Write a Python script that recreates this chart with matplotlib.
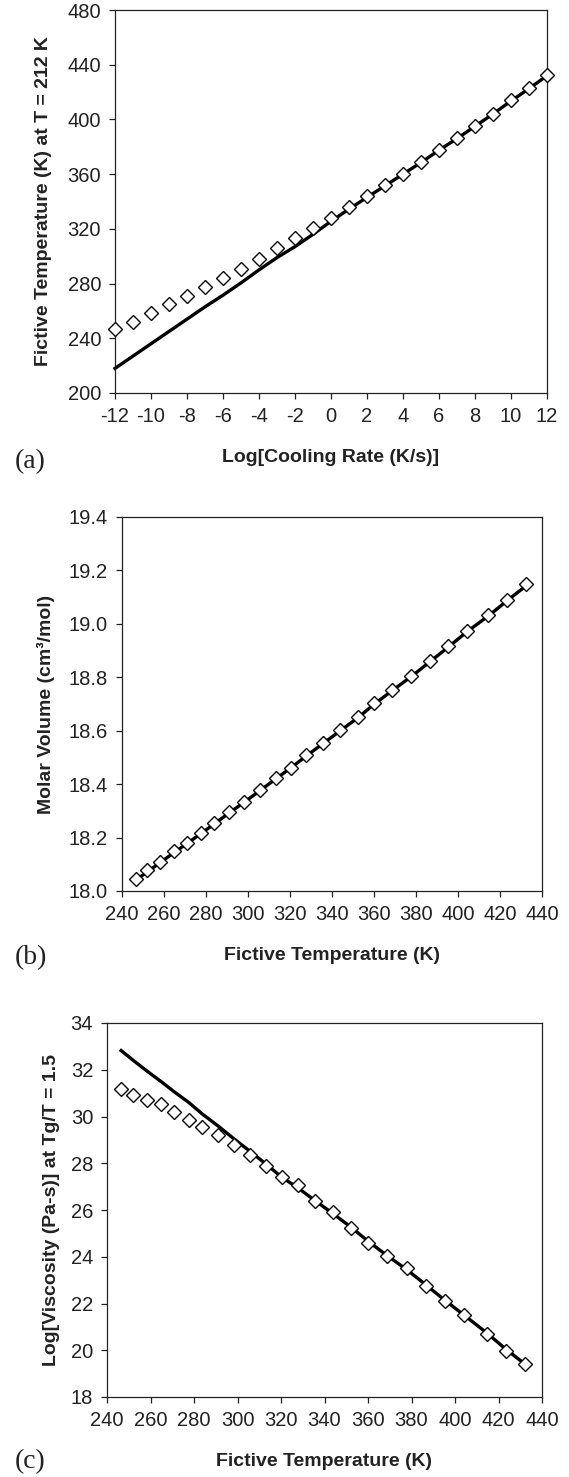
import matplotlib
matplotlib.use("Agg")
import matplotlib.pyplot as plt
import numpy as np

plt.rcParams['font.family'] = ['Liberation Sans', 'DejaVu Sans']
plt.rcParams['axes.unicode_minus'] = False

# (a) fictive temperature vs log cooling rate
log_rate = [-12, -11, -10, -9, -8, -7, -6, -5, -4, -3, -2, -1, 0,
            1, 2, 3, 4, 5, 6, 7, 8, 9, 10, 11, 12]
tf_points = [246.5, 252.1, 258.3, 264.8, 271.0, 277.6, 283.9, 291.0, 298.3,
             305.9, 313.3, 320.4, 327.7, 335.7, 343.8, 352.4, 360.2, 368.8,
             377.8, 386.6, 395.2, 404.2, 414.5, 423.3, 432.3]
tf_model = [218.0, 227.0, 236.0, 245.0, 254.0, 263.0, 271.5, 280.5, 290.0,
            299.0, 307.0, 316.0, 325.5, 334.5, 343.0, 351.5, 360.0, 368.5,
            377.5, 386.0, 395.0, 404.0, 413.5, 422.5, 432.0]

# (b) molar volume vs fictive temperature
volume_points = [18.045, 18.077, 18.110, 18.148, 18.180, 18.217, 18.253,
                 18.294, 18.335, 18.379, 18.422, 18.462, 18.508, 18.555,
                 18.601, 18.652, 18.703, 18.754, 18.806, 18.862, 18.916,
                 18.975, 19.035, 19.091, 19.150]
volume_model = [18.040, 18.072, 18.107, 18.144, 18.178, 18.215, 18.251,
                18.292, 18.333, 18.377, 18.420, 18.461, 18.505, 18.552,
                18.599, 18.649, 18.700, 18.751, 18.803, 18.858, 18.912,
                18.970, 19.030, 19.086, 19.142]

# (c) log viscosity vs fictive temperature
visc_points = [31.18, 30.94, 30.69, 30.53, 30.19, 29.86, 29.53, 29.20, 28.78,
               28.35, 27.87, 27.43, 27.05, 26.38, 25.90, 25.25, 24.60, 24.02,
               23.52, 22.77, 22.10, 21.50, 20.70, 19.96, 19.40]
visc_model = [32.82, 32.40, 31.95, 31.50, 31.05, 30.60, 30.10, 29.60, 29.05,
              28.50, 27.95, 27.40, 26.95, 26.40, 25.85, 25.25, 24.65, 24.05,
              23.45, 22.80, 22.15, 21.50, 20.75, 20.05, 19.40]

W, H = 569, 1477
fig = plt.figure(figsize=(W / 100, H / 100), dpi=100)

def make_axes(left, right, top, bottom):
    return fig.add_axes([left / W, 1 - bottom / H, (right - left) / W, (bottom - top) / H])

def style(ax, xlab, ylab, ylab_x, height_px):
    for s in ax.spines.values():
        s.set_linewidth(0.9)
        s.set_color('#222222')
    ax.tick_params(direction='out', length=4, width=0.9, color='#222222',
                   labelsize=14.5, labelcolor='#222222', pad=6,
                   top=False, right=False)
    ax.set_xlabel(xlab, fontsize=14, fontweight='bold', color='#222222')
    ax.set_ylabel(ylab, fontsize=14, fontweight='bold', color='#222222')
    ax.xaxis.set_label_coords(0.5, -64 / height_px)
    ax.xaxis.label.set_va('center')
    ax.yaxis.set_label_coords(ylab_x, 0.5)
    ax.yaxis.label.set_va('center')

mk = dict(marker='D', markersize=7.2, markerfacecolor='white',
          markeredgecolor='black', markeredgewidth=1.0, linestyle='none',
          zorder=3, clip_on=False)

# panel a
ax1 = make_axes(115, 547, 10, 393)
ax1.plot(log_rate, tf_model, color='black', lw=2.4, zorder=2, clip_on=False)
ax1.plot(log_rate, tf_points, **mk)
ax1.set_xlim(-12, 12)
ax1.set_ylim(200, 480)
ax1.set_xticks(np.arange(-12, 13, 2))
ax1.set_yticks(np.arange(200, 481, 40))
style(ax1, 'Log[Cooling Rate (K/s)]', 'Fictive Temperature (K) at T = 212 K',
      (44 - 115) / 432, 383)

# panel b
ax2 = make_axes(122, 542, 517, 891)
ax2.plot(tf_points, volume_model, color='black', lw=2.4, zorder=2)
ax2.plot(tf_points, volume_points, **mk)
ax2.set_xlim(240, 440)
ax2.set_ylim(18.0, 19.4)
ax2.set_xticks(np.arange(240, 441, 20))
ax2.set_yticks(np.round(np.arange(18.0, 19.41, 0.2), 1))
ax2.yaxis.set_major_formatter(matplotlib.ticker.FormatStrFormatter('%.1f'))
style(ax2, 'Fictive Temperature (K)', 'Molar Volume (cm\u00b3/mol)',
      (46 - 122) / 420, 374)

# panel c
ax3 = make_axes(107, 542, 1023, 1397)
ax3.plot(tf_points, visc_model, color='black', lw=2.4, zorder=2, clip_on=False)
ax3.plot(tf_points, visc_points, **mk)
ax3.set_xlim(240, 440)
ax3.set_ylim(18, 34)
ax3.set_xticks(np.arange(240, 441, 20))
ax3.set_yticks(np.arange(18, 35, 2))
style(ax3, 'Fictive Temperature (K)', 'Log[Viscosity (Pa-s)] at Tg/T = 1.5',
      (52 - 107) / 435, 374)

for lab, yc in [('(a)', 462), ('(b)', 958), ('(c)', 1462)]:
    fig.text(15 / W, 1 - yc / H, lab, fontsize=20, ha='left', va='center',
             family=['Liberation Serif', 'DejaVu Serif'], color='#222222')

fig.savefig('out.png', dpi=100)
